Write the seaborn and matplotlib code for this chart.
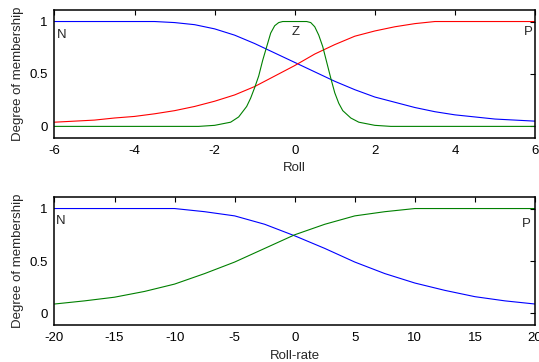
import numpy as np
import pandas as pd
import matplotlib
matplotlib.use("Agg")
import matplotlib.pyplot as plt
import seaborn as sns

# ---- data ----
roll_x = [-6, -5.5, -5, -4.5, -4, -3.5, -3, -2.5, -2, -1.5, -1, -0.5, 0,
          0.5, 1, 1.5, 2, 2.5, 3, 3.5, 4, 4.5, 5, 5.5, 6]
roll_N = [1.0, 1.0, 1.0, 1.0, 1.0, 1.0, 0.99, 0.97, 0.93, 0.87, 0.79, 0.70, 0.61,
          0.52, 0.43, 0.35, 0.28, 0.23, 0.18, 0.14, 0.11, 0.09, 0.07, 0.06, 0.05]
roll_P = [0.04, 0.05, 0.06, 0.08, 0.095, 0.12, 0.15, 0.19, 0.24, 0.30, 0.38, 0.48, 0.58,
          0.69, 0.78, 0.86, 0.91, 0.95, 0.98, 1.0, 1.0, 1.0, 1.0, 1.0, 1.0]

roll_zx = [-6, -2.4, -2.0, -1.6, -1.4, -1.2, -1.1, -1.0, -0.9, -0.8, -0.7, -0.6, -0.5, -0.4,
           -0.3, 0.3, 0.4, 0.5, 0.6, 0.7, 0.8, 0.9, 1.0, 1.1, 1.2, 1.4, 1.6, 2.0, 2.4, 6]
roll_Z = [0.0, 0.0, 0.01, 0.04, 0.09, 0.19, 0.27, 0.37, 0.48, 0.63, 0.76, 0.89, 0.96, 0.99,
          1.0, 1.0, 0.99, 0.95, 0.87, 0.76, 0.61, 0.46, 0.32, 0.22, 0.15, 0.08, 0.04, 0.01, 0.0, 0.0]

rate_x = [-20, -17.5, -15, -12.5, -10, -7.5, -5, -2.5, 0, 2.5, 5, 7.5, 10,
          12.5, 15, 17.5, 20]
rate_N = [1.0, 1.0, 1.0, 1.0, 1.0, 0.97, 0.93, 0.85, 0.74, 0.62, 0.49, 0.38, 0.29,
          0.22, 0.16, 0.12, 0.09]
rate_P = [0.09, 0.12, 0.155, 0.21, 0.28, 0.38, 0.49, 0.62, 0.75, 0.85, 0.93, 0.97, 1.0,
          1.0, 1.0, 1.0, 1.0]

y_ticks = [0, 0.5, 1]
y_ticklabels = ["0", "0.5", "1"]
roll_ticks = [-6, -4, -2, 0, 2, 4, 6]
rate_ticks = [-20, -15, -10, -5, 0, 5, 10, 15, 20]

# ---- style ----
sns.set_theme(style="white")
plt.rcParams['font.family'] = ['Liberation Sans', 'DejaVu Sans']
plt.rcParams['font.size'] = 9.5

fig = plt.figure(figsize=(5.39, 3.62), dpi=100)
ax1 = fig.add_axes([0.101, 0.619, 0.8916, 0.3534])
ax2 = fig.add_axes([0.101, 0.1022, 0.8916, 0.3536])

lw = 0.8
sns.lineplot(x=roll_x, y=roll_N, ax=ax1, color=(0, 0, 1), lw=lw)
sns.lineplot(x=roll_x, y=roll_P, ax=ax1, color=(1, 0, 0), lw=lw)
sns.lineplot(x=roll_zx, y=roll_Z, ax=ax1, color=(0, 0.5, 0), lw=lw)

sns.lineplot(x=rate_x, y=rate_N, ax=ax2, color=(0, 0, 1), lw=lw)
sns.lineplot(x=rate_x, y=rate_P, ax=ax2, color=(0, 0.5, 0), lw=lw)

for ax, xt, xl, lab in [(ax1, roll_ticks, (-6, 6), "Roll"),
                        (ax2, rate_ticks, (-20, 20), "Roll-rate")]:
    ax.set_xlim(*xl)
    ax.set_ylim(-0.11, 1.11)
    ax.set_xticks(xt)
    ax.set_xticklabels([str(t) for t in xt])
    ax.set_yticks(y_ticks)
    ax.set_yticklabels(y_ticklabels)
    ax.tick_params(direction="in", length=3.5, width=0.8, top=True, right=True,
                   labelsize=9.5, colors="black", pad=5)
    for s in ax.spines.values():
        s.set_visible(True)
        s.set_color("black")
        s.set_linewidth(1.1)
    ax.set_xlabel(lab, fontsize=9.5, labelpad=4)
    ax.set_ylabel("Degree of membership", fontsize=9.5, labelpad=4)

ax1.text(-5.83, 0.87, "N", ha="center", va="center", fontsize=9.5)
ax1.text(0.02, 0.9, "Z", ha="center", va="center", fontsize=9.5)
ax1.text(5.83, 0.9, "P", ha="center", va="center", fontsize=9.5)
ax2.text(-19.5, 0.886, "N", ha="center", va="center", fontsize=9.5)
ax2.text(19.3, 0.85, "P", ha="center", va="center", fontsize=9.5)

fig.savefig("out.png", dpi=100)
